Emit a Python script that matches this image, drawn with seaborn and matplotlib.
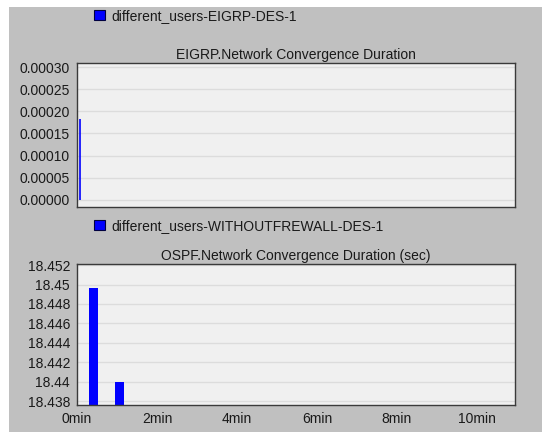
import matplotlib
matplotlib.use("Agg")
import matplotlib.pyplot as plt
from matplotlib.patches import Patch, Rectangle
import seaborn as sns
import pandas as pd

# ── data ────────────────────────────────────────────────
eigrp_label = "different_users-EIGRP-DES-1"
eigrp_title = "EIGRP.Network Convergence Duration"
eigrp_time = [0.075]          # minutes
eigrp_value = [0.000182]
eigrp_ticks = [0.0, 0.00005, 0.00010, 0.00015, 0.00020, 0.00025, 0.00030]
eigrp_ticklabels = ["0.00000", "0.00005", "0.00010", "0.00015",
                    "0.00020", "0.00025", "0.00030"]

ospf_label = "different_users-WITHOUTFREWALL-DES-1"
ospf_title = "OSPF.Network Convergence Duration (sec)"
ospf_time = [0.41, 1.06]      # minutes (bucket centres)
ospf_value = [18.4496, 18.4400]
ospf_ticks = [18.438, 18.440, 18.442, 18.444, 18.446, 18.448, 18.450, 18.452]
ospf_ticklabels = ["18.438", "18.44", "18.442", "18.444",
                   "18.446", "18.448", "18.45", "18.452"]

x_ticks = [0, 2, 4, 6, 8, 10]
x_ticklabels = ["0min", "2min", "4min", "6min", "8min", "10min"]

# ── style ───────────────────────────────────────────────
sns.set_style("white")
plt.rcParams["font.family"] = ["Liberation Sans", "DejaVu Sans"]
BG = "#c0c0c0"
FACE = "#f0f0f0"
GRID = "#dcdcdc"
BLUE = "#0000ff"
TXT = "#1a1a1a"
FS = 10

fig = plt.figure(figsize=(5.42, 4.32), dpi=100, facecolor="white")
fig.patches.append(Rectangle((9 / 542, 0), 1, 1 - 7 / 432,
                             transform=fig.transFigure, facecolor=BG,
                             edgecolor="none", zorder=-10))

ax1 = fig.add_axes([0.142, 0.521, 0.808, 0.333])
ax2 = fig.add_axes([0.142, 0.0625, 0.808, 0.326])


def style_axes(ax):
    ax.set_facecolor(FACE)
    for s in ax.spines.values():
        s.set_color("#3a3a3a")
        s.set_linewidth(1.0)
    ax.grid(axis="y", color=GRID, linewidth=1.0)
    ax.set_axisbelow(True)
    ax.tick_params(axis="both", direction="out", length=4, width=0.8,
                   color="#333333", labelsize=FS, labelcolor=TXT, pad=1)
    ax.set_xlim(0, 10.95)


# ── top panel: EIGRP ────────────────────────────────────
style_axes(ax1)
ax1.vlines(eigrp_time, 0, eigrp_value, color=BLUE, linewidth=1.2)
ax1.set_ylim(-0.0000158, 0.000309)
ax1.set_yticks(eigrp_ticks)
ax1.set_yticklabels(eigrp_ticklabels)
ax1.set_xticks([])
ax1.set_xlabel("")
ax1.set_title(eigrp_title, fontsize=FS, color=TXT, pad=3)

# ── bottom panel: OSPF ──────────────────────────────────
style_axes(ax2)
df = pd.DataFrame({"time": ospf_time, "value": ospf_value})
sns.barplot(data=df, x="time", y="value", native_scale=True, width=0.34,
            color=BLUE, saturation=1, edgecolor=BLUE, linewidth=0, ax=ax2)
ax2.set_xlim(0, 10.95)
ax2.set_ylim(18.4376, 18.4521)
ax2.set_yticks(ospf_ticks)
ax2.set_yticklabels(ospf_ticklabels)
ax2.set_xticks(x_ticks)
ax2.set_xticklabels(x_ticklabels)
ax2.set_xlabel("")
ax2.set_ylabel("")
ax2.set_title(ospf_title, fontsize=FS, color=TXT, pad=3)

# ── legends ─────────────────────────────────────────────
for lab, y in [(eigrp_label, 0.963), (ospf_label, 0.477)]:
    fig.legend(handles=[Patch(facecolor=BLUE, edgecolor="#000040", linewidth=0.8)],
               labels=[lab], loc="center left", bbox_to_anchor=(0.173, y),
               frameon=False, fontsize=FS, handlelength=0.8, handleheight=0.7,
               handletextpad=0.5, borderaxespad=0, borderpad=0,
               labelcolor=TXT)

fig.savefig("out.png", dpi=100, facecolor=fig.get_facecolor())
